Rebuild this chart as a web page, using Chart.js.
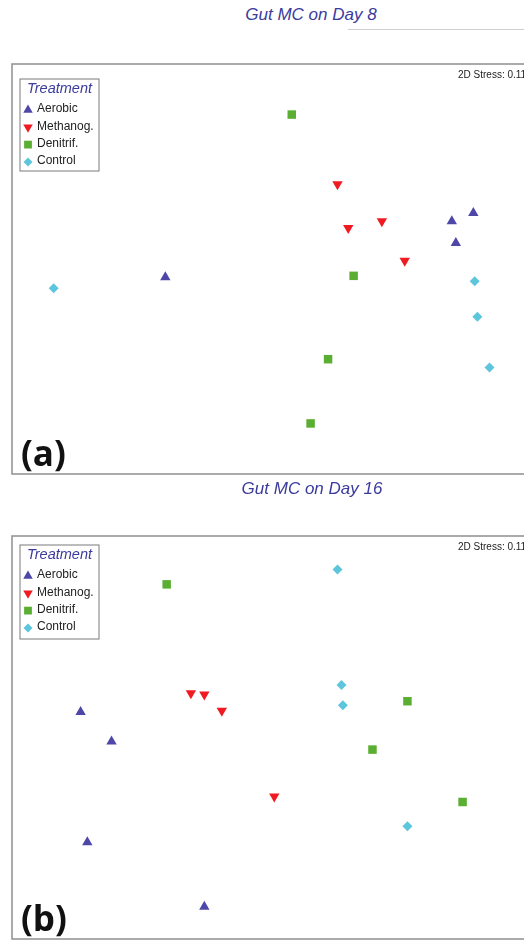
<!DOCTYPE html>
<html>
<head>
<meta charset="utf-8">
<script src="https://cdn.jsdelivr.net/npm/chart.js@4.4.0/dist/chart.umd.min.js"></script>
<style>
  html, body { margin: 0; padding: 0; background: #fff; overflow: hidden; width: 524px; height: 945px; }
  .wrap { position: absolute; left: 0; width: 560px; }
  .title { position: absolute; width: 240px; text-align: center; font: italic 17px "Liberation Sans", Arial, sans-serif; color: #3b3b9e; }
  .rule { position: absolute; height: 0; border-top: 1px solid #cfcfcf; }
</style>
</head>
<body>
<div class="title" style="left:191px;top:5px">Gut MC on Day 8</div>
<div class="rule" style="left:348px;top:29px;width:176px"></div>
<div class="wrap" style="top:0;height:480px"><canvas id="day8"></canvas></div>
<div class="title" style="left:192px;top:479px">Gut MC on Day 16</div>
<div class="wrap" style="top:480px;height:465px"><canvas id="day16"></canvas></div>

<script>
// treatment groups (legend order)
const treatments = ["Aerobic", "Methanog.", "Denitrif.", "Control"];

// NMDS coordinates, Day 8
const day8Aerobic  = [{x: -0.86, y: -0.06}, {x: 1.27, y: 0.35}, {x: 1.43, y: 0.41}, {x: 1.30, y: 0.19}];
const day8Methanog = [{x: 0.42, y: 0.62}, {x: 0.50, y: 0.30}, {x: 0.75, y: 0.35}, {x: 0.92, y: 0.06}];
const day8Denitrif = [{x: 0.08, y: 1.13}, {x: 0.54, y: -0.05}, {x: 0.35, y: -0.66}, {x: 0.22, y: -1.13}];
const day8Control  = [{x: -1.69, y: -0.14}, {x: 1.44, y: -0.09}, {x: 1.46, y: -0.35}, {x: 1.55, y: -0.72}];

// NMDS coordinates, Day 16
const day16Aerobic  = [{x: -1.49, y: 0.19}, {x: -1.26, y: -0.03}, {x: -1.44, y: -0.78}, {x: -0.57, y: -1.26}];
const day16Methanog = [{x: -0.67, y: 0.33}, {x: -0.57, y: 0.32}, {x: -0.44, y: 0.20}, {x: -0.05, y: -0.44}];
const day16Denitrif = [{x: -0.85, y: 1.14}, {x: 0.94, y: 0.27}, {x: 0.68, y: -0.09}, {x: 1.35, y: -0.48}];
const day16Control  = [{x: 0.42, y: 1.25}, {x: 0.45, y: 0.39}, {x: 0.46, y: 0.24}, {x: 0.94, y: -0.66}];

const stressLabel = "2D Stress: 0.11";

const styles = [
  { color: "#4e47a8", pointStyle: "triangle", rotation: 0,   radius: 6 },
  { color: "#f01b22", pointStyle: "triangle", rotation: 180, radius: 6 },
  { color: "#5aae32", pointStyle: "rect",     rotation: 0,   radius: 6 },
  { color: "#5ec6dc", pointStyle: "rectRot",  rotation: 0,   radius: 5 }
];

function marker(ctx, style, x, y, r) {
  ctx.fillStyle = style.color;
  ctx.beginPath();
  if (style.pointStyle === "triangle") {
    const s = style.rotation ? -1 : 1;
    ctx.moveTo(x, y - s * r);
    ctx.lineTo(x + r * 0.866, y + s * r * 0.5);
    ctx.lineTo(x - r * 0.866, y + s * r * 0.5);
  } else if (style.pointStyle === "rect") {
    const h = r * 0.707;
    ctx.rect(x - h, y - h, 2 * h, 2 * h);
  } else {
    ctx.moveTo(x, y - r); ctx.lineTo(x + r, y); ctx.lineTo(x, y + r); ctx.lineTo(x - r, y);
  }
  ctx.closePath();
  ctx.fill();
}

const panelDecor = {
  id: "panelDecor",
  afterDraw(chart, args, opts) {
    const { ctx, chartArea: a } = chart;
    ctx.save();
    // frame
    ctx.strokeStyle = "#8f8f8f";
    ctx.lineWidth = 1.5;
    ctx.strokeRect(a.left, a.top, a.right - a.left, a.bottom - a.top);

    ctx.textBaseline = "middle";
    ctx.fillStyle = "#222";
    ctx.font = '10px "Liberation Sans", Arial, sans-serif';
    ctx.fillText(stressLabel, 458, a.top + 11);

    ctx.fillStyle = "#111";
    ctx.font = 'bold 35px "Open Sans", "Liberation Sans", sans-serif';
    ctx.fillText(opts.letter, 21, a.bottom - 18);

    // legend box
    const lx = a.left + 8, ly = a.top + opts.legendTop, lw = 79, lh = opts.legendH;
    ctx.strokeStyle = "#7a7a7a";
    ctx.lineWidth = 1;
    ctx.strokeRect(lx, ly, lw, lh);
    ctx.fillStyle = "#3b3b9e";
    ctx.font = 'italic 14.5px "Liberation Sans", Arial, sans-serif';
    ctx.fillText("Treatment", lx + 7, ly + 10);
    ctx.font = '12px "Liberation Sans", Arial, sans-serif';
    chart.data.datasets.forEach((ds, i) => {
      const y = ly + 30 + i * 17.3;
      marker(ctx, styles[i], lx + 8, y + 1, i === 3 ? 4.5 : 5.5);
      ctx.fillStyle = "#222";
      ctx.fillText(ds.label, lx + 17, y);
    });
    ctx.restore();
  }
};

function makePanel(id, groups, pad, letter, legendTop, legendH) {
  new Chart(document.getElementById(id), {
    type: "scatter",
    data: {
      datasets: groups.map((pts, i) => ({
        label: treatments[i],
        data: pts,
        pointStyle: styles[i].pointStyle,
        pointRotation: styles[i].rotation,
        pointRadius: styles[i].radius,
        backgroundColor: styles[i].color,
        borderColor: styles[i].color,
        borderWidth: 0
      }))
    },
    options: {
      responsive: true,
      maintainAspectRatio: false,
      animation: false,
      layout: { padding: pad },
      scales: {
        x: { type: "linear", min: -2, max: 2, display: false },
        y: { type: "linear", min: -1.5, max: 1.5, display: false }
      },
      plugins: {
        legend: { display: false },
        tooltip: { enabled: false },
        panelDecor: { letter, legendTop, legendH }
      }
    },
    plugins: [panelDecor]
  });
}

makePanel("day8", [day8Aerobic, day8Methanog, day8Denitrif, day8Control],
  { left: 12, right: 10, top: 64, bottom: 6 }, "(a)", 15, 92);
makePanel("day16", [day16Aerobic, day16Methanog, day16Denitrif, day16Control],
  { left: 12, right: 10, top: 56, bottom: 3 }, "(b)", 9, 94);
</script>
</body>
</html>
